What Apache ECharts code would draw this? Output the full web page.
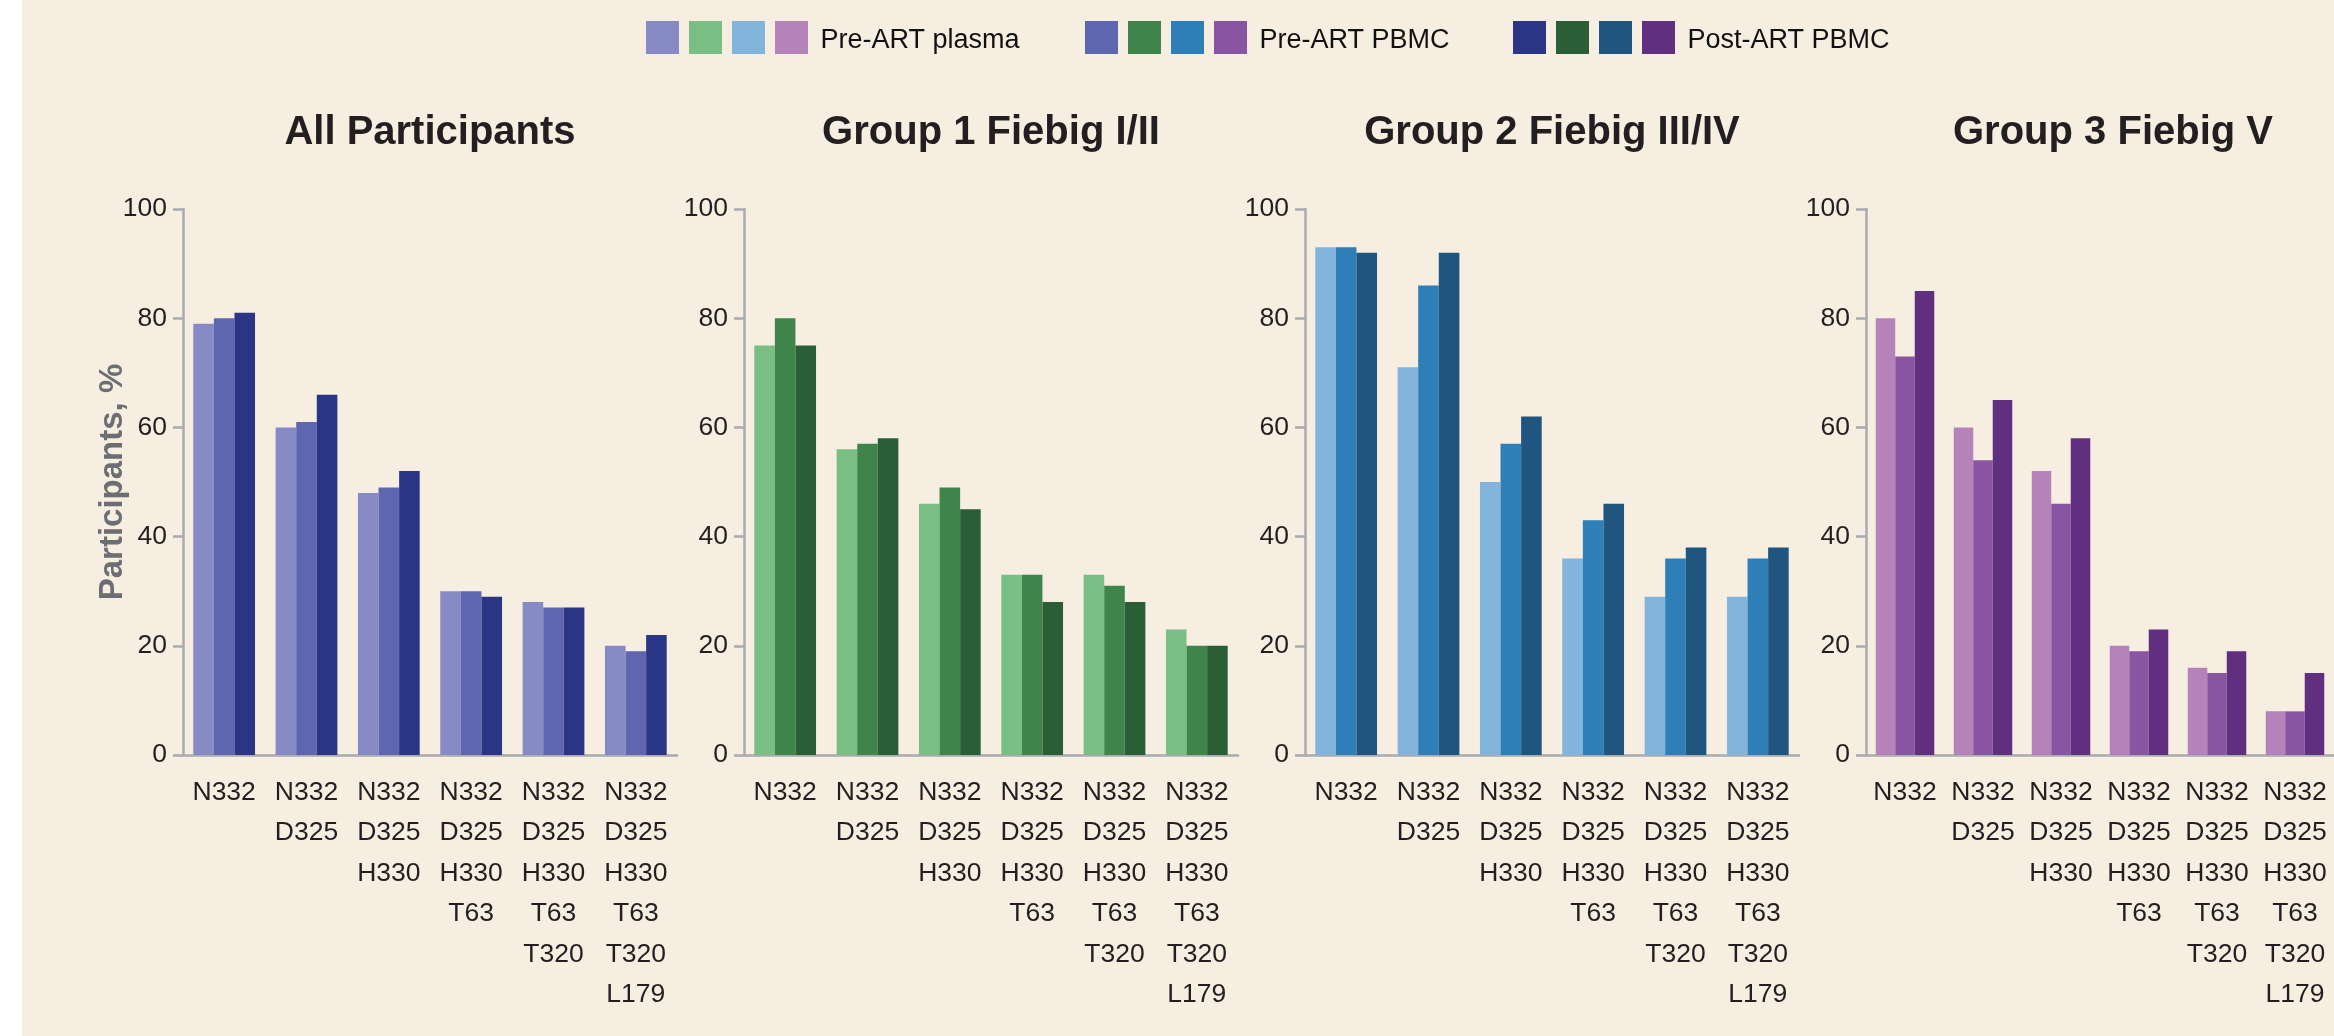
<!DOCTYPE html>
<html>
<head>
<meta charset="utf-8">
<script src="https://cdn.jsdelivr.net/npm/echarts@6/dist/echarts.min.js"></script>
<style>
  html, body { margin: 0; padding: 0; background: #ffffff; }
  #chart { position: absolute; left: 0; top: 0; width: 2334px; height: 1036px;
    background: linear-gradient(to right, #ffffff 22px, #f6eee1 22px); }
</style>
</head>
<body>
<div id="chart"></div>
<script>
// ---------- data ----------
const categories = [
  'N332',
  'N332\nD325',
  'N332\nD325\nH330',
  'N332\nD325\nH330\nT63',
  'N332\nD325\nH330\nT63\nT320',
  'N332\nD325\nH330\nT63\nT320\nL179'
];
const panelTitles = ['All Participants', 'Group 1 Fiebig I/II', 'Group 2 Fiebig III/IV', 'Group 3 Fiebig V'];
const sampleTypes = ['Pre-ART plasma', 'Pre-ART PBMC', 'Post-ART PBMC'];
const yAxisName = 'Participants, %';

const allPlasma    = [79, 60, 48, 30, 28, 20];
const allPrePBMC   = [80, 61, 49, 30, 27, 19];
const allPostPBMC  = [81, 66, 52, 29, 27, 22];

const g1Plasma     = [75, 56, 46, 33, 33, 23];
const g1PrePBMC    = [80, 57, 49, 33, 31, 20];
const g1PostPBMC   = [75, 58, 45, 28, 28, 20];

const g2Plasma     = [93, 71, 50, 36, 29, 29];
const g2PrePBMC    = [93, 86, 57, 43, 36, 36];
const g2PostPBMC   = [92, 92, 62, 46, 38, 38];

const g3Plasma     = [80, 60, 52, 20, 16, 8];
const g3PrePBMC    = [73, 54, 46, 19, 15, 8];
const g3PostPBMC   = [85, 65, 58, 23, 19, 15];

const panelData = [
  [allPlasma, allPrePBMC, allPostPBMC],
  [g1Plasma, g1PrePBMC, g1PostPBMC],
  [g2Plasma, g2PrePBMC, g2PostPBMC],
  [g3Plasma, g3PrePBMC, g3PostPBMC]
];

// ---------- style ----------
const panelColors = [
  ['#878bc5', '#5e66b0', '#2b3586'],
  ['#79be83', '#3f854b', '#2a5e37'],
  ['#82b4dc', '#2e7eb8', '#20557f'],
  ['#b583ba', '#8954a2', '#612f80']
];
const FONT = '"Liberation Sans", Arial, sans-serif';
const TXT = '#231f20';
const AXIS = '#a9abae';
const gridLeft = [183, 744, 1305, 1866];
const gridW = 494, gridTop = 209, gridH = 546;

const chart = echarts.init(document.getElementById('chart'), null, { renderer: 'canvas' });

const grids = [], xAxes = [], yAxes = [], titles = [], series = [];
panelTitles.forEach((t, i) => {
  grids.push({ left: gridLeft[i], top: gridTop, width: gridW, height: gridH, containLabel: false });
  titles.push({
    text: t, left: gridLeft[i] + gridW / 2, top: 113, textAlign: 'center', padding: 0,
    textStyle: { fontFamily: FONT, fontSize: 40, fontWeight: 'bold', color: TXT }
  });
  xAxes.push({
    type: 'category', gridIndex: i, data: categories,
    axisLine: { lineStyle: { color: AXIS, width: 2.5 } },
    axisTick: { show: false },
    axisLabel: { interval: 0, margin: 17, fontFamily: FONT, fontSize: 26.5, lineHeight: 40.5, color: TXT }
  });
  yAxes.push({
    type: 'value', gridIndex: i, min: 0, max: 100, interval: 20,
    name: i === 0 ? yAxisName : '', nameLocation: 'middle', nameRotate: 90, nameGap: 54,
    nameMoveOverlap: false,
    nameTextStyle: { fontFamily: FONT, fontSize: 33, fontWeight: 'bold', color: '#6d6e71' },
    axisLine: { show: true, lineStyle: { color: AXIS, width: 2.5 } },
    axisTick: { show: true, length: 10, lineStyle: { color: AXIS, width: 2.5 } },
    splitLine: { show: false },
    axisLabel: { margin: 16, fontFamily: FONT, fontSize: 26.5, color: TXT }
  });
  sampleTypes.forEach((s, k) => {
    series.push({
      type: 'bar', name: s + ' — ' + t, xAxisIndex: i, yAxisIndex: i,
      data: panelData[i][k], barGap: '0%', barCategoryGap: '25%',
      itemStyle: { color: panelColors[i][k] }, silent: true, animation: false
    });
  });
});

const legendLeft = [646, 1085, 1513];
const legends = sampleTypes.map((s, k) => ({
  left: legendLeft[k], top: 21, orient: 'horizontal', padding: 0,
  itemWidth: 33, itemHeight: 33, itemGap: 10, icon: 'rect', selectedMode: false,
  data: panelTitles.map(t => s + ' — ' + t),
  formatter: name => (name === s + ' — ' + panelTitles[3]) ? '{t| ' + s + '}' : '',
  textStyle: {
    fontFamily: FONT, fontSize: 27, color: '#111111',
    rich: { t: { fontFamily: FONT, fontSize: 27, color: '#111111', padding: [6, 0, 0, 0] } }
  }
}));

chart.setOption({
  backgroundColor: 'transparent',
  animation: false,
  title: titles,
  legend: legends,
  grid: grids,
  xAxis: xAxes,
  yAxis: yAxes,
  series: series
});
</script>
</body>
</html>
